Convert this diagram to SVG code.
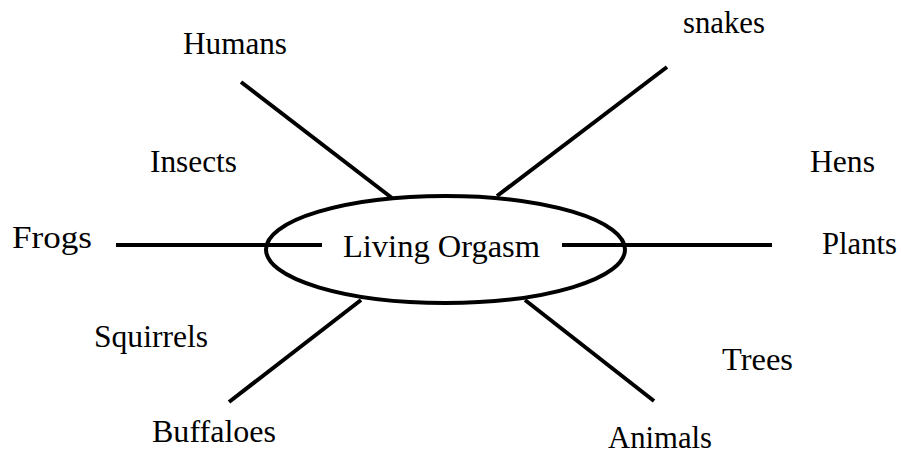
<svg xmlns="http://www.w3.org/2000/svg" width="901" height="455" viewBox="0 0 901 455">
<style>
.l{stroke:#000;stroke-width:4;fill:none}
text{font-family:"Liberation Serif","Times New Roman",serif;font-size:31px;fill:#000}
</style>
<rect width="901" height="455" fill="#fff"/>
<g id="connectors">
<line class="l" x1="241" y1="82" x2="392" y2="198"/>
<line class="l" x1="667" y1="67" x2="497" y2="196"/>
<line class="l" x1="116" y1="245" x2="322" y2="245"/>
<line class="l" x1="562" y1="245" x2="772" y2="245"/>
<line class="l" x1="229" y1="402" x2="361" y2="300"/>
<line class="l" x1="654" y1="401" x2="525" y2="300"/>
</g>
<g id="center"><ellipse class="l" cx="445.5" cy="249.5" rx="179.5" ry="53.5"/><text x="343" y="257" textLength="197" lengthAdjust="spacingAndGlyphs">Living Orgasm</text></g>
<g id="humans"><text x="183" y="54" textLength="104" lengthAdjust="spacingAndGlyphs">Humans</text></g>
<g id="snakes"><text x="683" y="33" textLength="82" lengthAdjust="spacingAndGlyphs">snakes</text></g>
<g id="insects"><text x="150" y="172" textLength="87" lengthAdjust="spacingAndGlyphs">Insects</text></g>
<g id="hens"><text x="810" y="172" textLength="65" lengthAdjust="spacingAndGlyphs">Hens</text></g>
<g id="frogs"><text x="12" y="248" textLength="80" lengthAdjust="spacingAndGlyphs">Frogs</text></g>
<g id="plants"><text x="822" y="254" textLength="75" lengthAdjust="spacingAndGlyphs">Plants</text></g>
<g id="squirrels"><text x="94" y="347" textLength="114" lengthAdjust="spacingAndGlyphs">Squirrels</text></g>
<g id="trees"><text x="722" y="370" textLength="71" lengthAdjust="spacingAndGlyphs">Trees</text></g>
<g id="buffaloes"><text x="152" y="442" textLength="124" lengthAdjust="spacingAndGlyphs">Buffaloes</text></g>
<g id="animals"><text x="608" y="448" textLength="104" lengthAdjust="spacingAndGlyphs">Animals</text></g>
</svg>
